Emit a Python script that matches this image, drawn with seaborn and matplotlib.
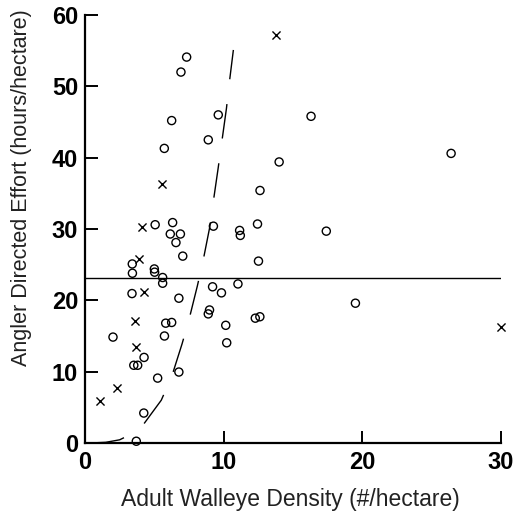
# Walleye density vs angler effort scatter

import pandas as pd
import numpy as np
import matplotlib
matplotlib.use("Agg")
import matplotlib.pyplot as plt
import seaborn as sns

# lakes shown as open circles
circle_x = [7.33, 6.92, 6.25, 9.61, 5.72, 8.89, 14.0, 12.62, 16.3, 26.4, 17.4, 19.5,
            5.06, 6.32, 9.26, 11.15, 11.2, 12.44, 6.15, 6.88, 6.56, 7.05, 12.51,
            3.41, 3.42, 5.0, 5.02, 5.6, 5.6, 9.2, 9.84, 11.03, 3.39, 6.77, 8.98,
            8.89, 10.15, 12.28, 12.61, 5.82, 6.25, 2.02, 5.73, 10.22, 4.26, 3.52,
            3.8, 6.77, 5.24, 4.24, 3.7]
circle_y = [54.1, 52.0, 45.2, 46.0, 41.3, 42.5, 39.4, 35.4, 45.8, 40.6, 29.7, 19.6,
            30.6, 30.9, 30.4, 29.8, 29.1, 30.7, 29.3, 29.3, 28.1, 26.2, 25.5,
            25.1, 23.8, 24.4, 23.95, 23.2, 22.4, 21.9, 21.05, 22.3, 20.95, 20.3, 18.65,
            18.1, 16.5, 17.5, 17.7, 16.8, 16.9, 14.85, 15.0, 14.05, 12.0, 10.9,
            10.9, 9.95, 9.1, 4.2, 0.25]

# lakes shown as crosses
cross_x = [13.8, 5.54, 29.97, 4.11, 3.87, 4.28, 3.6, 3.65, 2.34, 1.1]
cross_y = [57.2, 36.35, 16.2, 30.25, 25.8, 21.2, 17.1, 13.45, 7.7, 5.95]

# fitted curve
curve_x = [0.36, 1.5, 2.5, 3.5, 4.1, 5.5, 6.25, 7.0, 7.5, 8.1, 8.5, 9.0, 9.25, 9.6,
           9.85, 10.2, 10.4, 10.7]
curve_y = [0.0, 0.1, 0.45, 1.4, 2.3, 6.0, 9.3, 13.9, 17.3, 22.0, 25.4, 30.3, 33.8,
           38.5, 42.0, 46.9, 50.4, 55.1]

mean_effort = 23.2

x_ticks = [0, 10, 20, 30]
y_ticks = [0, 10, 20, 30, 40, 50, 60]

sns.set_style("white")
plt.rcParams["font.family"] = ["Liberation Sans", "DejaVu Sans"]

circles = pd.DataFrame({"density": circle_x, "effort": circle_y})
crosses = pd.DataFrame({"density": cross_x, "effort": cross_y})
curve = pd.DataFrame({"density": curve_x, "effort": curve_y})

fig = plt.figure(figsize=(5.16, 5.19), dpi=100)
ax = fig.add_axes([0.1647, 0.1464, 0.8063, 0.8247])

sns.scatterplot(data=circles, x="density", y="effort", marker="o", s=34,
                facecolors="none", edgecolors="black", linewidths=1.0, ax=ax,
                zorder=3, clip_on=False)
sns.scatterplot(data=crosses, x="density", y="effort", marker="x", s=34,
                color="black", linewidths=1.0, ax=ax, zorder=3, clip_on=False)
sns.lineplot(data=curve, x="density", y="effort", color="black", lw=1.0,
             linestyle=(0, (25, 18)), sort=False, ax=ax)
ax.axhline(mean_effort, color="black", lw=1.0)

ax.set_xlim(0, 30)
ax.set_ylim(0, 60)
ax.set_xticks(x_ticks)
ax.set_yticks(y_ticks)
ax.set_xticklabels([str(t) for t in x_ticks], fontweight="bold")
ax.set_yticklabels([str(t) for t in y_ticks], fontweight="bold")
ax.tick_params(axis="both", direction="in", length=9, width=1.4, labelsize=17,
               colors="black", pad=5, bottom=True, left=True)
ax.tick_params(axis="x", pad=6)

sns.despine(ax=ax)
for side in ["left", "bottom"]:
    ax.spines[side].set_linewidth(1.6)
    ax.spines[side].set_color("black")

ax.set_xlabel("Adult Walleye Density (#/hectare)", fontsize=16.5, color="#222222")
ax.set_ylabel("Angler Directed Effort (hours/hectare)", fontsize=15.5, color="#222222")
ax.xaxis.set_label_coords(0.494, -0.105)
ax.yaxis.set_label_coords(-0.127, 0.596)

fig.savefig("out.png", dpi=100)
